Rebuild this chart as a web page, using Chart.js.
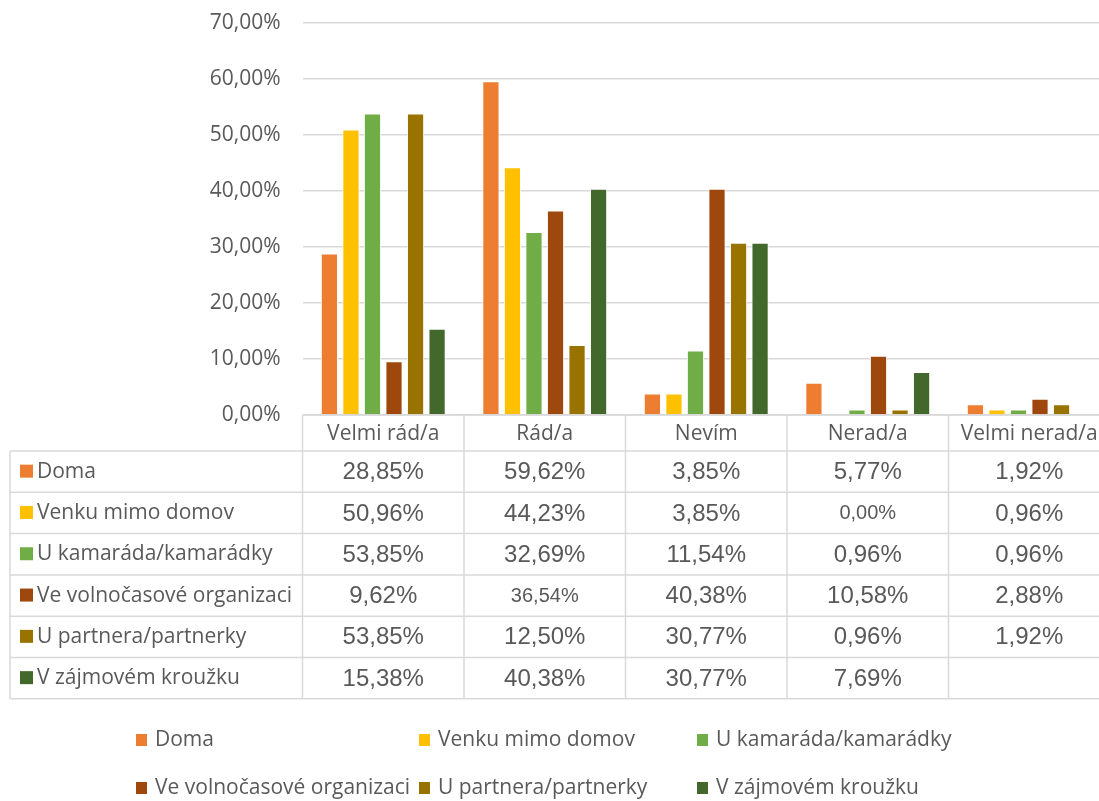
<!DOCTYPE html>
<html>
<head>
<meta charset="utf-8">
<script src="https://cdn.jsdelivr.net/npm/chart.js@4.4.1/dist/chart.umd.min.js"></script>
<style>
  html, body { margin: 0; padding: 0; background: #fff; overflow: hidden; }
  #wrap { width: 1110px; height: 801px; position: relative; }
</style>
</head>
<body>
<div id="wrap"><canvas id="chart"></canvas></div>
<script>
const categories = ["Velmi rád/a", "Rád/a", "Nevím", "Nerad/a", "Velmi nerad/a"];
const seriesNames = ["Doma", "Venku mimo domov", "U kamaráda/kamarádky",
  "Ve volnočasové organizaci", "U partnera/partnerky", "V zájmovém kroužku"];
const colors = ["#ED7D31", "#FFC000", "#70AD47", "#9E480E", "#997300", "#43682B"];

const doma = [28.85, 59.62, 3.85, 5.77, 1.92];
const venku = [50.96, 44.23, 3.85, 0.00, 0.96];
const kamarad = [53.85, 32.69, 11.54, 0.96, 0.96];
const organizace = [9.62, 36.54, 40.38, 10.58, 2.88];
const partner = [53.85, 12.50, 30.77, 0.96, 1.92];
const krouzek = [15.38, 40.38, 30.77, 7.69, null];

const series = [doma, venku, kamarad, organizace, partner, krouzek];

// y axis: 0 .. 70 step 10
const yMin = 0, yMax = 70, yStep = 10;

// cells that are printed smaller in the original table [row, col]
const smallCells = [[1, 3], [3, 1]];

const fmt = v => v.toFixed(2).replace(".", ",") + "%";
const textColor = "#595959";
const lineColor = "#d9d9d9";
const labelFont = "\"Open Sans\", \"Noto Sans\", sans-serif";
const numFont = "\"Liberation Sans\", Arial, sans-serif";

// data table + legend under the plot
const tablePlugin = {
  id: "dataTable",
  afterDraw(chart) {
    const { ctx, chartArea } = chart;
    const xs = chart.scales.x;
    const step = xs.getPixelForValue(1) - xs.getPixelForValue(0);
    const top = chartArea.bottom;
    const headerH = 36;
    const rowH = 41.3;
    const tableLeft = 10;
    const bottom = top + headerH + rowH * seriesNames.length;

    ctx.save();
    ctx.strokeStyle = lineColor;
    ctx.lineWidth = 1.5;

    ctx.beginPath();
    ctx.moveTo(chartArea.left, top);
    ctx.lineTo(chartArea.right, top);
    for (let r = 0; r <= seriesNames.length; r++) {
      const y = top + headerH + r * rowH;
      ctx.moveTo(tableLeft, y);
      ctx.lineTo(chartArea.right, y);
    }
    ctx.moveTo(tableLeft, top + headerH);
    ctx.lineTo(tableLeft, bottom);
    for (let i = 0; i <= categories.length; i++) {
      const x = xs.getPixelForValue(i) - step / 2;
      ctx.moveTo(x, top);
      ctx.lineTo(x, bottom);
    }
    ctx.stroke();

    ctx.fillStyle = textColor;
    ctx.textAlign = "center";
    ctx.textBaseline = "middle";
    ctx.font = "21px " + labelFont;
    categories.forEach((c, i) => {
      ctx.fillText(c, xs.getPixelForValue(i), top + headerH / 2 + 1);
    });

    seriesNames.forEach((name, r) => {
      const cy = top + headerH + r * rowH + rowH / 2;
      ctx.fillStyle = colors[r];
      ctx.fillRect(20, cy - 7, 13, 13);
      ctx.fillStyle = textColor;
      ctx.textAlign = "left";
      ctx.font = "21px " + labelFont;
      ctx.fillText(name, 37, cy);
      ctx.textAlign = "center";
      series[r].forEach((v, i) => {
        if (v === null) return;
        const small = smallCells.some(s => s[0] === r && s[1] === i);
        ctx.font = (small ? "20px " : "24px ") + numFont;
        ctx.fillText(fmt(v), xs.getPixelForValue(i), cy + 1);
      });
    });

    // legend
    const legX = [136, 419, 697];
    const legY = [740, 788];
    ctx.font = "21px " + labelFont;
    ctx.textAlign = "left";
    seriesNames.forEach((name, k) => {
      const x = legX[k % 3];
      const y = legY[Math.floor(k / 3)];
      ctx.fillStyle = colors[k];
      ctx.fillRect(x, y - 6, 11, 12);
      ctx.fillStyle = textColor;
      ctx.fillText(name, x + 19, y);
    });
    ctx.restore();
  }
};

new Chart(document.getElementById("chart"), {
  type: "bar",
  data: {
    labels: categories,
    datasets: seriesNames.map((name, k) => ({
      label: name,
      data: series[k],
      backgroundColor: colors[k],
      borderColor: "#ffffff",
      borderWidth: 1,
      categoryPercentage: 0.8,
      barPercentage: 0.8
    }))
  },
  options: {
    responsive: true,
    maintainAspectRatio: false,
    animation: false,
    layout: { padding: { top: 23, right: 0, bottom: 386, left: 0 } },
    plugins: {
      legend: { display: false },
      tooltip: { enabled: false }
    },
    scales: {
      x: { display: false },
      y: {
        min: yMin,
        max: yMax,
        afterFit(scale) {
          scale.width = 302.5;
          scale.paddingTop = 0;
          scale.paddingBottom = 0;
        },
        border: { display: false },
        grid: { color: lineColor, lineWidth: 1.5, drawTicks: false },
        ticks: {
          stepSize: yStep,
          padding: 22,
          color: textColor,
          font: { family: "Open Sans", size: 21 },
          callback: v => fmt(v)
        }
      }
    }
  },
  plugins: [tablePlugin]
});
</script>
</body>
</html>
